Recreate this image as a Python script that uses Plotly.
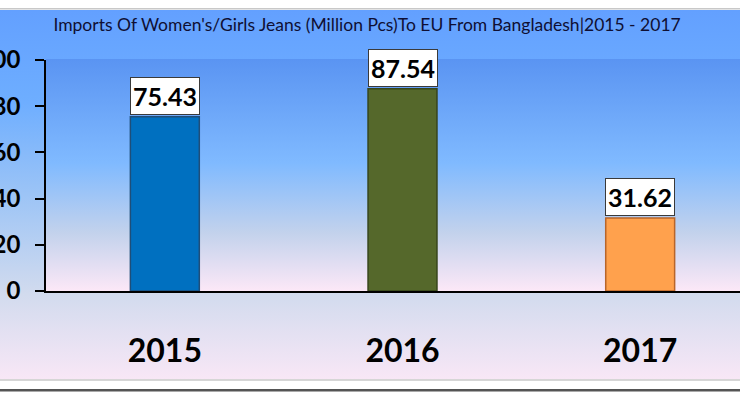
import base64
import plotly.graph_objects as go

# ---- data ----
years = ["2015", "2016", "2017"]
values = [75.43, 87.54, 31.62]
value_labels = ["75.43", "87.54", "31.62"]
y_ticks = [0, 20, 40, 60, 80, 100]
title_text = "Imports Of Women's/Girls Jeans (Million Pcs)To EU From Bangladesh|2015 - 2017"

# ---- styling ----
bar_fill = ["#0070C0", "#55682B", "#FFA14D"]
bar_edge = ["#1F4E79", "#37461B", "#B8652A"]

W, H = 740, 393
ML, MR, MT, MB = 46, 0, 60, 102
PW, PH = W - ML - MR, H - MT - MB

# background gradient drawn as an SVG image (decoration only)
svg = f'''<svg xmlns="http://www.w3.org/2000/svg" width="{W}" height="{H}" viewBox="0 0 {W} {H}" preserveAspectRatio="none">
<defs>
<linearGradient id="o" x1="0" y1="0" x2="0" y2="1">
<stop offset="0" stop-color="#63A0FF"/>
<stop offset="0.25" stop-color="#6EAEFF"/>
<stop offset="0.5" stop-color="#9CC4F6"/>
<stop offset="0.77" stop-color="#D2DBEE"/>
<stop offset="1" stop-color="#F8E7F6"/>
</linearGradient>
<linearGradient id="p" x1="0" y1="0" x2="0" y2="1">
<stop offset="0" stop-color="#5A94F2"/>
<stop offset="0.45" stop-color="#80BAFF"/>
<stop offset="0.75" stop-color="#C3D2EC"/>
<stop offset="1" stop-color="#FCE8F7"/>
</linearGradient>
</defs>
<rect x="0" y="0" width="{W}" height="{H}" fill="#FFFFFF"/>
<rect x="0" y="8" width="{W}" height="1.5" fill="#C8C8C8"/>
<rect x="0" y="10" width="{W}" height="369" fill="url(#o)"/>
<rect x="0" y="379" width="{W}" height="2" fill="#D6D6D6"/>
<rect x="0" y="389" width="{W}" height="2.5" fill="#555555"/>
<rect x="{ML}" y="59" width="{PW}" height="{291-59}" fill="url(#p)"/>
</svg>'''
src = "data:image/svg+xml;base64," + base64.b64encode(svg.encode()).decode()

fig = go.Figure()
fig.add_trace(go.Bar(
    x=years, y=values, width=0.29,
    marker=dict(color=bar_fill, line=dict(color=bar_edge, width=1.5)),
    hoverinfo="skip", showlegend=False,
))

for i, (v, lab) in enumerate(zip(values, value_labels)):
    fig.add_annotation(
        x=i, y=v, xref="x", yref="y", text=f"<b>{lab}</b>", showarrow=False,
        yanchor="bottom", yshift=2,
        font=dict(family="Lato", size=25, color="#000000"),
        bgcolor="#FFFFFF", bordercolor="#3A3A3A", borderwidth=1,
        borderpad=2, width=64, height=32,
    )

fig.add_layout_image(
    source=src, xref="paper", yref="paper",
    x=-ML / PW, y=1 + MT / PH, sizex=W / PW, sizey=H / PH,
    xanchor="left", yanchor="top", sizing="stretch", layer="below",
)

fig.update_layout(
    width=W, height=H,
    margin=dict(l=ML, r=MR, t=MT, b=MB, pad=0, autoexpand=False),
    paper_bgcolor="#FFFFFF", plot_bgcolor="rgba(0,0,0,0)",
    title=dict(
        text=title_text, x=0.496, xref="container", xanchor="center",
        y=1 - 25 / H, yref="container", yanchor="middle",
        font=dict(family="Lato", size=17.5, color="#0F0F33"),
    ),
    xaxis=dict(
        type="category", automargin=False,
        range=[-0.5, 2.42], showgrid=False, zeroline=False,
        showline=True, linecolor="#000000", linewidth=2,
        ticks="", tickfont=dict(family="Lato", size=32, color="#000000", weight="bold"),
        ticklabelstandoff=31,
    ),
    yaxis=dict(
        automargin=False,
        range=[0, 100], tickvals=y_ticks, showgrid=False, zeroline=False,
        showline=True, linecolor="#000000", linewidth=1.5,
        ticks="outside", ticklen=9, tickwidth=1.5, tickcolor="#000000",
        tickfont=dict(family="Lato", size=24, color="#000000", weight="bold"),
        ticklabelstandoff=10,
    ),
)

fig.write_html("out.html")
